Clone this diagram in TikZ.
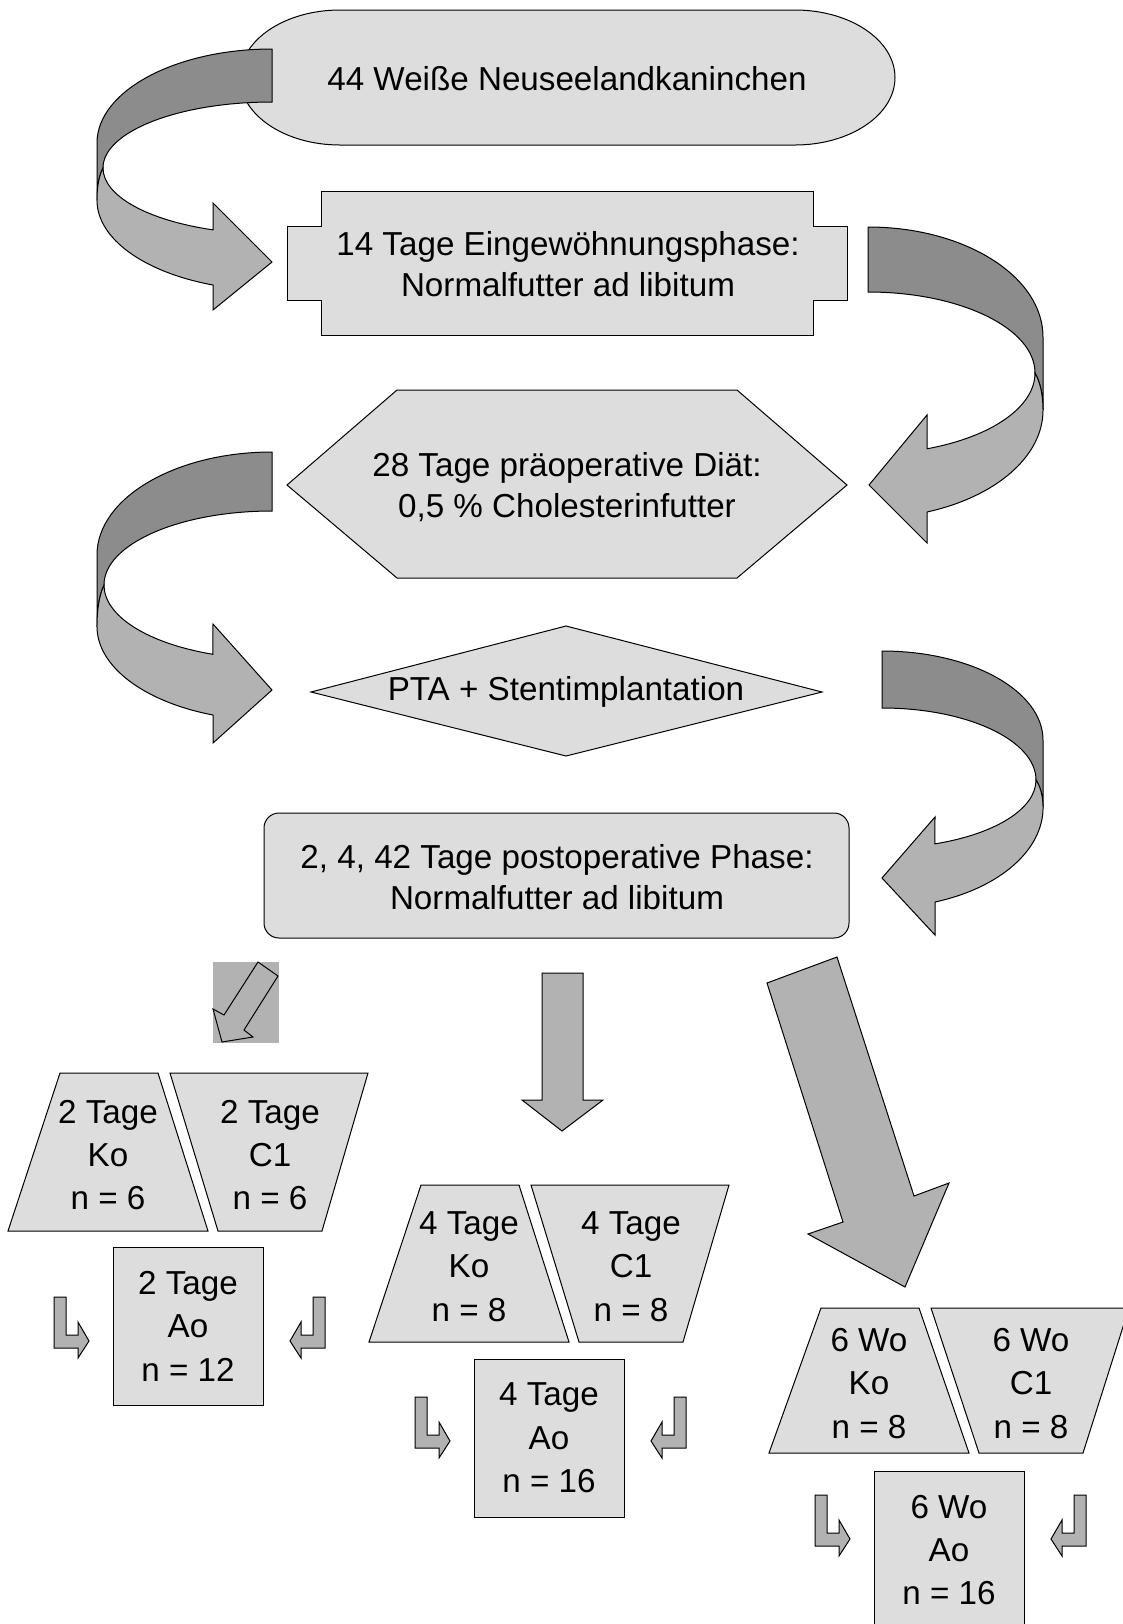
\documentclass[tikz,border=0pt]{standalone}
\usepackage{fontspec}
\setmainfont{Liberation Sans}
\usepackage{tikz}
\usetikzlibrary{positioning}
\definecolor{boxgray}{RGB}{221,221,221}
\definecolor{bandlight}{RGB}{178,178,178}
\definecolor{banddark}{RGB}{140,140,140}

\begin{document}
\begin{tikzpicture}[x=0.5pt, y=-0.5pt, line width=0.5pt,
  font=\fontsize{16.6}{20.5}\selectfont,
  box/.style={draw=black, fill=boxgray},
  light/.style={draw=black, fill=bandlight},
  dark/.style={draw=black, fill=banddark},
  lbl/.style={align=center, inner sep=0pt},
  grp/.style={lbl, font=\fontsize{16.6}{21.7}\selectfont}]
  \useasboundingbox (0,0) rectangle (1123,1624);

  % stages, top to bottom
  \draw[box] (340,10) -- (795,10) arc[start angle=-90, end angle=90, x radius=100, y radius=67.5]
    -- (340,145) arc[start angle=90, end angle=270, x radius=100, y radius=67.5] -- cycle;
  \node[lbl] (tiere) at (567,79) {44 Weiße Neuseelandkaninchen};

  \draw[box] (321,191) -- (813,191) -- (813,226) -- (847,226) -- (847,300) -- (813,300) -- (813,335)
    -- (321,335) -- (321,300) -- (287,300) -- (287,226) -- (321,226) -- cycle;
  \node[lbl] (eingew) at (568,264) {14 Tage Eingewöhnungsphase:\\Normalfutter ad libitum};

  \draw[box] (287,485) -- (397,390) -- (737,390) -- (847,485) -- (737,578) -- (397,578) -- cycle;
  \node[lbl] (diaet) at (567,487) {28 Tage präoperative Diät:\\0,5 \% Cholesterinfutter};

  \draw[box] (311,692) -- (566,626) -- (822,692) -- (566,756) -- cycle;
  \node[lbl] (pta) at (566,692) {PTA + Stentimplantation};

  \draw[box, rounded corners=7.5pt] (264,813) rectangle (849,938);
  \node[lbl] (postop) at (557,877) {2, 4, 42 Tage postoperative Phase:\\Normalfutter ad libitum};

  % curved ribbon arrows
  \draw[dark] (272,49) arc[start angle=-90, end angle=-180, x radius=175, y radius=94] -- (97,200)
    .. controls (97,186) and (99,176) .. (103,168) arc[start angle=180, end angle=270, x radius=169, y radius=66] -- cycle;
  \draw[light] (103,168) arc[start angle=180, end angle=110.4, x radius=169, y radius=66]
    -- (213,203) -- (272,262) -- (213,310) -- (213,285) arc[start angle=109.7, end angle=180, x radius=175, y radius=90]
    .. controls (97,186) and (99,176) .. (103,168) -- cycle;

  \draw[dark] (868,227) arc[start angle=-90, end angle=0, x radius=175, y radius=110] -- (1043,410)
    .. controls (1043,394) and (1040,382) .. (1035,373) arc[start angle=0, end angle=-90, x radius=167, y radius=81] -- cycle;
  \draw[light] (1035,373) arc[start angle=0, end angle=69.3, x radius=167, y radius=81]
    -- (927,415) -- (869,485) -- (927,543) -- (927,512) arc[start angle=70.3, end angle=0, x radius=175, y radius=108]
    .. controls (1043,394) and (1040,382) .. (1035,373) -- cycle;

  \draw[dark] (272,452) arc[start angle=-90, end angle=-180, x radius=175, y radius=103] -- (97,627)
    .. controls (97,610) and (99,596) .. (104,585) arc[start angle=180, end angle=270, x radius=168, y radius=74] -- cycle;
  \draw[light] (104,585) arc[start angle=180, end angle=110.6, x radius=168, y radius=74]
    -- (213,624) -- (272,690) -- (213,743) -- (213,715) arc[start angle=109.7, end angle=180, x radius=175, y radius=94]
    .. controls (97,610) and (99,596) .. (104,585) -- cycle;

  \draw[dark] (882,651) arc[start angle=-90, end angle=0, x radius=161, y radius=89] -- (1043,807)
    .. controls (1043,795) and (1040,786) .. (1036,780) arc[start angle=0, end angle=-90, x radius=154, y radius=72] -- cycle;
  \draw[light] (1036,780) arc[start angle=0, end angle=69.9, x radius=154, y radius=68]
    -- (935,817) -- (882,878) -- (935,935) -- (935,902) arc[start angle=70.8, end angle=0, x radius=161, y radius=100]
    .. controls (1043,795) and (1040,786) .. (1036,780) -- cycle;

  % arrows into the three groups
  \fill[bandlight] (213,962) rectangle (279,1043);
  \draw[light] (258,962) -- (278,976) -- (244,1030) -- (253,1037) -- (222,1042) -- (213,1009) -- (224,1015) -- cycle;
  \draw[light] (542,973) -- (583,973) -- (583,1100) -- (603,1100) -- (562,1131) -- (522,1100) -- (542,1100) -- cycle;
  \draw[light] (767,983) -- (837,957) -- (914,1196) -- (949,1183) -- (905,1287) -- (808,1234) -- (843,1222) -- cycle;

  % groups: Ko, C1 and Ao
  \foreach \x/\y/\h/\ya/\yb/\zeit/\n/\m [count=\i] in
    {8/1073/158/1247/1297/2 Tage/6/12, 369/1185/157/1359/1397/4 Tage/8/16, 769/1308/145/1471/1495/6 Wo/8/16}{
    \draw[box] (\x+52,\y) -- (\x+150,\y) -- (\x+200,\y+\h) -- (\x,\y+\h) -- cycle;
    \draw[box] (\x+162,\y) -- (\x+360,\y) -- (\x+314,\y+\h) -- (\x+210,\y+\h) -- cycle;
    \draw[box] (\x+105,\ya) rectangle (\x+255,\ya+158);
    \node[grp] (ko\i) at (\x+100,\y+\h/2+3) {\zeit\\Ko\\n = \n};
    \node[grp] (cone\i) at (\x+262,\y+\h/2+3) {\zeit\\C1\\n = \n};
    \node[grp] (ao\i) at (\x+180,\ya+79) {\zeit\\Ao\\n = \m};
    \begin{scope}[shift={(\x+46,\yb)}]
      \draw[light] (0,0) -- (12,0) -- (12,38) -- (24,38) -- (24,25) -- (35,44) -- (24,61) -- (24,51) -- (0,51) -- cycle;
    \end{scope}
    \begin{scope}[shift={(\x+317,\yb)}, xscale=-1]
      \draw[light] (0,0) -- (12,0) -- (12,38) -- (24,38) -- (24,25) -- (35,44) -- (24,61) -- (24,51) -- (0,51) -- cycle;
    \end{scope}
  }
\end{tikzpicture}
\end{document}
